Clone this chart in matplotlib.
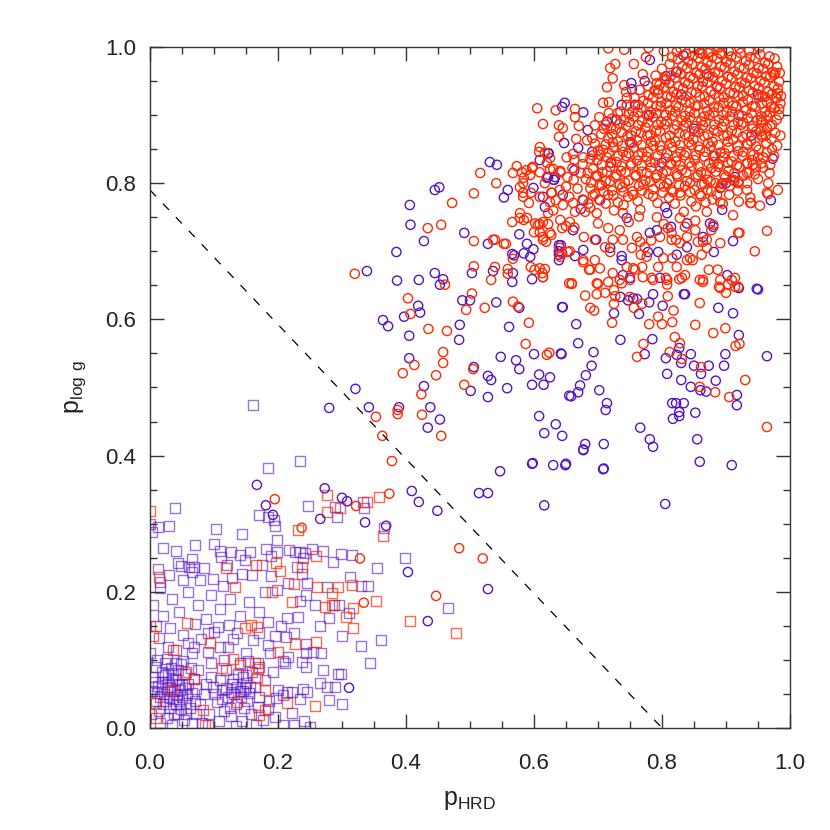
#!/usr/bin/env python3
"""
p_logg vs p_HRD scatter (circles: giants-side sample, squares: dwarf-side sample)
"""

import matplotlib
matplotlib.use("Agg")
import matplotlib.pyplot as plt
from matplotlib.ticker import MultipleLocator
import numpy as np

plt.rcParams['font.family'] = ['Liberation Sans', 'DejaVu Sans']
plt.rcParams['mathtext.default'] = 'regular'

PURPLE = '#5514c4'
RED = '#ff2a00'

# ---- data: (p_HRD, p_logg) pairs ----
purple_squares = [
    (0.039, 0.323), (0.030, 0.297), (0.013, 0.295), (0.003, 0.288), (0.103, 0.292), (0.144, 0.285),
    (0.170, 0.313), (0.184, 0.310), (0.194, 0.305), (0.195, 0.297), (0.247, 0.326), (0.289, 0.325),
    (0.292, 0.310), (0.333, 0.332), (0.217, 0.261), (0.227, 0.259), (0.234, 0.259), (0.242, 0.257),
    (0.239, 0.250), (0.253, 0.263), (0.270, 0.260), (0.286, 0.244), (0.298, 0.255), (0.315, 0.254),
    (0.181, 0.263), (0.189, 0.253), (0.198, 0.259), (0.157, 0.259), (0.140, 0.254), (0.127, 0.259),
    (0.110, 0.260), (0.111, 0.251), (0.149, 0.247), (0.066, 0.248), (0.043, 0.242), (0.048, 0.238),
    (0.068, 0.236), (0.012, 0.233), (0.016, 0.214), (0.061, 0.237), (0.065, 0.229), (0.078, 0.217),
    (0.052, 0.217), (0.098, 0.219), (0.114, 0.209), (0.128, 0.220), (0.144, 0.226), (0.189, 0.223),
    (0.216, 0.213), (0.238, 0.226), (0.245, 0.213), (0.276, 0.207), (0.330, 0.208), (0.340, 0.208),
    (0.312, 0.222), (0.198, 0.203), (0.244, 0.195), (0.288, 0.181), (0.295, 0.181), (0.311, 0.169),
    (0.280, 0.162), (0.231, 0.163), (0.214, 0.162), (0.234, 0.187), (0.212, 0.134), (0.244, 0.123),
    (0.254, 0.111), (0.244, 0.110), (0.188, 0.110), (0.184, 0.122), (0.169, 0.095), (0.170, 0.090),
    (0.153, 0.098), (0.208, 0.098), (0.211, 0.095), (0.237, 0.097), (0.244, 0.090), (0.267, 0.110),
    (0.298, 0.079), (0.344, 0.095), (0.198, 0.276), (0.230, 0.236), (0.334, 0.323), (0.398, 0.250),
    (0.355, 0.235), (0.466, 0.176), (0.366, 0.293), (0.361, 0.129), (0.161, 0.474), (0.234, 0.392),
    (0.184, 0.382), (0.195, 0.016), (0.208, 0.004), (0.225, 0.004), (0.241, 0.010), (0.250, 0.002),
    (0.222, 0.022), (0.234, 0.043), (0.280, 0.041), (0.266, 0.066), (0.277, 0.060), (0.289, 0.060),
    (0.294, 0.079), (0.239, 0.057), (0.245, 0.053), (0.222, 0.053), (0.214, 0.053), (0.208, 0.049),
    (0.197, 0.044), (0.200, 0.056), (0.169, 0.031), (0.184, 0.028), (0.192, 0.082), (0.216, 0.104),
    (0.070, 0.153), (0.106, 0.148), (0.100, 0.141), (0.124, 0.151), (0.136, 0.139), (0.161, 0.129),
    (0.014, 0.132), (0.031, 0.147), (0.052, 0.137), (0.028, 0.119), (0.011, 0.100), (0.027, 0.101),
    (0.048, 0.094), (0.066, 0.110), (0.068, 0.119), (0.091, 0.112), (0.109, 0.119), (0.122, 0.119),
    (0.075, 0.085), (0.150, 0.078), (0.156, 0.060), (0.145, 0.054), (0.126, 0.053), (0.113, 0.056),
    # dense knot near the origin
    (0.005, 0.075), (0.012, 0.062), (0.018, 0.082), (0.022, 0.050), (0.028, 0.068), (0.033, 0.088),
    (0.038, 0.055), (0.041, 0.072), (0.046, 0.040), (0.050, 0.063), (0.055, 0.080), (0.058, 0.048),
    (0.062, 0.030), (0.008, 0.040), (0.014, 0.025), (0.020, 0.035), (0.026, 0.015), (0.031, 0.030),
    (0.036, 0.042), (0.043, 0.020), (0.048, 0.028), (0.053, 0.012), (0.060, 0.065), (0.065, 0.052),
    (0.003, 0.055), (0.010, 0.090), (0.024, 0.095), (0.016, 0.008), (0.035, 0.005), (0.040, 0.095),
    (0.052, 0.098), (0.068, 0.072), (0.070, 0.040), (0.002, 0.020), (0.027, 0.058), (0.034, 0.070),
    (0.044, 0.085), (0.056, 0.037), (0.019, 0.068), (0.030, 0.045), (0.038, 0.020), (0.047, 0.056),
    (0.064, 0.088), (0.072, 0.058), (0.011, 0.052), (0.023, 0.078), (0.057, 0.020), (0.066, 0.008),
    (0.015, 0.045), (0.025, 0.040), (0.032, 0.060), (0.042, 0.048), (0.045, 0.065), (0.018, 0.058),
    (0.008, 0.068), (0.036, 0.078), (0.050, 0.045), (0.028, 0.080), (0.054, 0.058), (0.040, 0.035),
    # second knot
    (0.078, 0.035), (0.085, 0.050), (0.092, 0.020), (0.098, 0.060), (0.104, 0.038), (0.110, 0.070),
    (0.116, 0.025), (0.122, 0.045), (0.128, 0.065), (0.134, 0.035), (0.140, 0.055), (0.146, 0.075),
    (0.152, 0.040), (0.158, 0.020), (0.164, 0.060), (0.170, 0.045), (0.176, 0.012), (0.082, 0.008),
    (0.095, 0.075), (0.108, 0.010), (0.118, 0.085), (0.126, 0.018), (0.137, 0.080), (0.143, 0.010),
    (0.150, 0.066), (0.160, 0.082), (0.131, 0.050), (0.119, 0.058), (0.101, 0.050), (0.088, 0.065),
    (0.113, 0.043), (0.147, 0.030), (0.155, 0.052), (0.125, 0.030), (0.180, 0.070), (0.186, 0.040),
    (0.072, 0.020), (0.090, 0.005), (0.135, 0.003), (0.165, 0.005), (0.136, 0.060), (0.142, 0.045),
    (0.130, 0.072), (0.148, 0.058),
    # sparse middle
    (0.005, 0.180), (0.020, 0.165), (0.035, 0.190), (0.045, 0.170), (0.060, 0.200), (0.075, 0.180),
    (0.088, 0.160), (0.095, 0.195), (0.110, 0.175), (0.125, 0.190), (0.140, 0.165), (0.155, 0.185),
    (0.170, 0.170), (0.180, 0.200), (0.015, 0.205), (0.030, 0.225), (0.085, 0.235), (0.100, 0.270),
    (0.120, 0.240), (0.160, 0.225), (0.175, 0.240), (0.040, 0.260), (0.020, 0.265), (0.070, 0.268),
    (0.090, 0.140), (0.130, 0.130), (0.150, 0.110), (0.170, 0.140), (0.185, 0.155), (0.195, 0.135),
    (0.205, 0.150), (0.225, 0.140), (0.060, 0.125), (0.080, 0.130), (0.040, 0.115), (0.000, 0.110),
    (0.010, 0.150), (0.115, 0.100), (0.095, 0.095), (0.140, 0.095), (0.258, 0.180), (0.265, 0.150),
    (0.300, 0.135), (0.330, 0.120), (0.270, 0.085), (0.300, 0.035), (0.000, 0.300),
]

red_squares = [
    (0.000, 0.319), (0.276, 0.342), (0.297, 0.323), (0.276, 0.317), (0.231, 0.291), (0.259, 0.253),
    (0.237, 0.236), (0.197, 0.242), (0.203, 0.231), (0.119, 0.235), (0.166, 0.239), (0.014, 0.222),
    (0.133, 0.207), (0.225, 0.211), (0.261, 0.207), (0.294, 0.207), (0.315, 0.210), (0.191, 0.200),
    (0.284, 0.198), (0.284, 0.181), (0.273, 0.178), (0.317, 0.176), (0.317, 0.147), (0.306, 0.163),
    (0.222, 0.185), (0.227, 0.123), (0.259, 0.126), (0.200, 0.111), (0.258, 0.032), (0.214, 0.037),
    (0.180, 0.056), (0.180, 0.026), (0.170, 0.019), (0.058, 0.154), (0.148, 0.147), (0.158, 0.151),
    (0.167, 0.149), (0.005, 0.135), (0.036, 0.115), (0.094, 0.125), (0.130, 0.101), (0.141, 0.093),
    (0.113, 0.088), (0.056, 0.082), (0.069, 0.072), (0.164, 0.095), (0.169, 0.087), (0.167, 0.073),
    (0.136, 0.038), (0.083, 0.026), (0.086, 0.004), (0.033, 0.056), (0.009, 0.037), (0.009, 0.015),
    (0.339, 0.332), (0.358, 0.339), (0.364, 0.282), (0.353, 0.186), (0.406, 0.157), (0.478, 0.140),
    (0.000, 0.150),
]

purple_circles = [
    (0.531, 0.831), (0.542, 0.827), (0.445, 0.790), (0.452, 0.794), (0.406, 0.768), (0.407, 0.739),
    (0.428, 0.715), (0.385, 0.699), (0.339, 0.671), (0.386, 0.657), (0.420, 0.658), (0.445, 0.668),
    (0.458, 0.659), (0.453, 0.651), (0.491, 0.727), (0.528, 0.711), (0.503, 0.668), (0.536, 0.671),
    (0.567, 0.668), (0.566, 0.655), (0.597, 0.659), (0.419, 0.620), (0.397, 0.604), (0.422, 0.610),
    (0.364, 0.599), (0.372, 0.590), (0.405, 0.576), (0.484, 0.592), (0.483, 0.570), (0.488, 0.628),
    (0.500, 0.628), (0.541, 0.625), (0.561, 0.589), (0.577, 0.617), (0.644, 0.618), (0.405, 0.543),
    (0.428, 0.502), (0.438, 0.471), (0.453, 0.453), (0.434, 0.441), (0.389, 0.471), (0.342, 0.471),
    (0.321, 0.498), (0.280, 0.470), (0.506, 0.530), (0.501, 0.495), (0.528, 0.517), (0.533, 0.511),
    (0.528, 0.486), (0.558, 0.499), (0.548, 0.545), (0.572, 0.540), (0.577, 0.527), (0.600, 0.549),
    (0.608, 0.519), (0.625, 0.515), (0.597, 0.504), (0.615, 0.504), (0.642, 0.550), (0.608, 0.458),
    (0.634, 0.446), (0.616, 0.433), (0.644, 0.429), (0.598, 0.389), (0.630, 0.386), (0.649, 0.386),
    (0.547, 0.377), (0.577, 0.725), (0.566, 0.696), (0.594, 0.692), (0.599, 0.703), (0.623, 0.844),
    (0.559, 0.790), (0.553, 0.779), (0.599, 0.793), (0.622, 0.809), (0.631, 0.805), (0.639, 0.700),
    (0.639, 0.687), (0.614, 0.780), (0.609, 0.834), (0.589, 0.711), (0.584, 0.697), (0.569, 0.694),
    (0.639, 0.709), (0.655, 0.488), (0.409, 0.348), (0.420, 0.332), (0.449, 0.319), (0.336, 0.302),
    (0.369, 0.297), (0.403, 0.229), (0.434, 0.157), (0.528, 0.204), (0.514, 0.345), (0.528, 0.345),
    (0.597, 0.388), (0.616, 0.327), (0.677, 0.409), (0.680, 0.417), (0.709, 0.417), (0.709, 0.381),
    (0.805, 0.329), (0.167, 0.357), (0.181, 0.327), (0.192, 0.313), (0.273, 0.352), (0.300, 0.338),
    (0.308, 0.333), (0.266, 0.307), (0.311, 0.059),
    (0.645, 0.618), (0.666, 0.593), (0.669, 0.565), (0.643, 0.549), (0.693, 0.552), (0.690, 0.532),
    (0.681, 0.518), (0.672, 0.503), (0.669, 0.493), (0.658, 0.487), (0.702, 0.496), (0.714, 0.477),
    (0.712, 0.467), (0.735, 0.570), (0.725, 0.609), (0.735, 0.633), (0.747, 0.628), (0.761, 0.630),
    (0.764, 0.608), (0.780, 0.625), (0.786, 0.637), (0.785, 0.571), (0.773, 0.549), (0.801, 0.620),
    (0.836, 0.637), (0.806, 0.543), (0.808, 0.520), (0.823, 0.548), (0.827, 0.558), (0.830, 0.536),
    (0.830, 0.511), (0.845, 0.549), (0.850, 0.532), (0.873, 0.532), (0.861, 0.520), (0.845, 0.501),
    (0.860, 0.496), (0.869, 0.494), (0.884, 0.510), (0.816, 0.477), (0.822, 0.477), (0.834, 0.477),
    (0.827, 0.464), (0.817, 0.454), (0.827, 0.458), (0.852, 0.463), (0.766, 0.441), (0.781, 0.424),
    (0.786, 0.413), (0.855, 0.424), (0.859, 0.391), (0.909, 0.386), (0.708, 0.380), (0.677, 0.408),
    (0.650, 0.388), (0.888, 0.617), (0.911, 0.609), (0.920, 0.577), (0.899, 0.549), (0.897, 0.532),
    (0.917, 0.489), (0.917, 0.474), (0.964, 0.546), (0.950, 0.644), (0.920, 0.646),
    (0.781, 0.981), (0.833, 0.988), (0.822, 0.963), (0.806, 0.957), (0.773, 0.950), (0.752, 0.947),
    (0.753, 0.938), (0.648, 0.918), (0.644, 0.912), (0.677, 0.904), (0.729, 0.893), (0.737, 0.915),
    (0.758, 0.915), (0.714, 0.890), (0.684, 0.878), (0.647, 0.859), (0.622, 0.844), (0.669, 0.852),
    (0.691, 0.846), (0.663, 0.819), (0.633, 0.809), (0.973, 0.836), (0.886, 0.941),
    (0.620, 0.808), (0.631, 0.805), (0.645, 0.783), (0.617, 0.765), (0.677, 0.775), (0.673, 0.762),
    (0.703, 0.775), (0.661, 0.731), (0.677, 0.702), (0.697, 0.717), (0.639, 0.695), (0.642, 0.709),
    (0.664, 0.693), (0.737, 0.693), (0.737, 0.687), (0.739, 0.665), (0.750, 0.661), (0.719, 0.705),
    (0.745, 0.749), (0.781, 0.727), (0.792, 0.731), (0.778, 0.699), (0.794, 0.699), (0.808, 0.756),
    (0.805, 0.765), (0.839, 0.741), (0.814, 0.736), (0.839, 0.706), (0.823, 0.695), (0.864, 0.721),
    (0.875, 0.741), (0.880, 0.736), (0.894, 0.761), (0.881, 0.699), (0.911, 0.715), (0.891, 0.793),
    (0.914, 0.809), (0.970, 0.775), (0.902, 0.665), (0.948, 0.645), (0.797, 0.661), (0.755, 0.631),
    (0.834, 0.637),
    # hidden inside the red mass
    (0.750, 0.860), (0.800, 0.830), (0.850, 0.880), (0.880, 0.840), (0.920, 0.900), (0.780, 0.900),
    (0.830, 0.930), (0.950, 0.930), (0.720, 0.830), (0.900, 0.800), (0.870, 0.960), (0.940, 0.870),
]

red_circles_sparse = [
    (0.378, 0.392), (0.374, 0.344), (0.483, 0.264), (0.520, 0.249), (0.447, 0.194), (0.334, 0.184),
    (0.328, 0.249), (0.195, 0.336), (0.237, 0.294), (0.322, 0.326),
    (0.320, 0.667), (0.403, 0.631), (0.407, 0.608), (0.435, 0.586), (0.464, 0.583), (0.458, 0.552),
    (0.458, 0.536), (0.413, 0.533), (0.395, 0.521), (0.447, 0.518), (0.491, 0.504), (0.505, 0.527),
    (0.424, 0.490), (0.353, 0.457), (0.387, 0.467), (0.387, 0.461), (0.425, 0.460), (0.363, 0.429),
    (0.455, 0.429), (0.494, 0.614), (0.503, 0.638), (0.523, 0.617), (0.567, 0.626), (0.575, 0.619),
    (0.592, 0.595), (0.587, 0.564), (0.620, 0.548), (0.624, 0.551), (0.506, 0.678), (0.539, 0.677),
    (0.533, 0.658), (0.559, 0.674), (0.559, 0.667), (0.595, 0.677), (0.617, 0.674), (0.613, 0.668),
    (0.614, 0.662), (0.556, 0.711), (0.539, 0.717), (0.506, 0.715), (0.619, 0.714), (0.641, 0.692),
    (0.655, 0.653), (0.516, 0.815), (0.541, 0.800), (0.506, 0.785), (0.472, 0.771), (0.434, 0.734),
    (0.455, 0.739), (0.536, 0.717), (0.553, 0.711), (0.461, 0.651),
]

red_circles_halo = [
    (0.727, 0.975), (0.719, 0.969), (0.756, 0.975), (0.775, 0.985), (0.723, 0.954), (0.741, 0.944),
    (0.714, 0.941), (0.770, 0.960), (0.744, 0.934), (0.745, 0.925), (0.708, 0.918), (0.717, 0.919),
    (0.717, 0.903), (0.702, 0.897), (0.731, 0.903), (0.634, 0.907), (0.664, 0.909), (0.664, 0.897),
    (0.614, 0.887), (0.639, 0.885), (0.645, 0.881), (0.670, 0.884), (0.695, 0.885), (0.709, 0.880),
    (0.720, 0.881), (0.683, 0.863), (0.691, 0.866), (0.666, 0.865), (0.639, 0.868), (0.651, 0.838),
    (0.661, 0.843), (0.663, 0.834), (0.677, 0.838), (0.692, 0.841), (0.609, 0.853), (0.625, 0.837),
    (0.617, 0.845), (0.609, 0.816), (0.630, 0.821), (0.641, 0.818), (0.816, 0.985), (0.823, 0.993),
    (0.850, 0.998), (0.859, 0.991), (0.872, 0.991), (0.891, 0.991), (0.792, 0.947), (0.794, 0.937),
    (0.805, 0.953), (0.984, 0.962), (0.975, 0.959), (0.981, 0.932), (0.979, 0.925), (0.983, 0.909),
    (0.961, 0.927), (0.955, 0.893), (0.964, 0.881), (0.956, 0.868), (0.950, 0.838), (0.969, 0.827),
    (0.942, 0.827), (0.933, 0.830), (0.605, 0.910), (0.588, 0.819), (0.598, 0.824), (0.584, 0.808),
    (0.578, 0.794), (0.583, 0.780), (0.592, 0.771), (0.578, 0.756), (0.589, 0.749), (0.602, 0.741),
    (0.609, 0.740), (0.600, 0.728), (0.614, 0.717), (0.625, 0.727),
    (0.617, 0.800), (0.628, 0.786), (0.625, 0.772), (0.622, 0.756), (0.614, 0.721), (0.627, 0.724),
    (0.609, 0.675), (0.614, 0.662), (0.641, 0.746), (0.644, 0.734), (0.650, 0.737), (0.656, 0.743),
    (0.663, 0.735), (0.656, 0.700), (0.678, 0.721), (0.677, 0.687), (0.695, 0.717), (0.695, 0.687),
    (0.703, 0.675), (0.686, 0.673), (0.659, 0.653), (0.698, 0.653), (0.716, 0.655), (0.725, 0.643),
    (0.737, 0.653), (0.750, 0.658), (0.755, 0.675), (0.769, 0.677), (0.770, 0.662), (0.784, 0.661),
    (0.806, 0.661), (0.808, 0.651), (0.823, 0.677), (0.831, 0.661), (0.839, 0.687), (0.848, 0.687),
    (0.856, 0.714), (0.864, 0.714), (0.870, 0.705), (0.873, 0.673), (0.887, 0.673), (0.864, 0.658),
    (0.889, 0.648), (0.909, 0.658), (0.914, 0.661), (0.919, 0.648), (0.921, 0.727), (0.911, 0.753),
    (0.945, 0.700), (0.964, 0.730), (0.953, 0.767), (0.966, 0.784), (0.981, 0.790), (0.939, 0.771),
    (0.938, 0.779), (0.933, 0.800), (0.945, 0.813), (0.911, 0.805), (0.920, 0.803), (0.852, 0.731),
    (0.836, 0.736), (0.880, 0.739), (0.877, 0.731), (0.839, 0.721), (0.828, 0.712), (0.815, 0.717),
    (0.816, 0.690), (0.794, 0.677), (0.776, 0.692), (0.753, 0.705), (0.766, 0.714), (0.739, 0.717),
    (0.723, 0.717), (0.734, 0.731), (0.711, 0.706), (0.719, 0.699), (0.761, 0.721), (0.773, 0.706),
    (0.783, 0.716), (0.797, 0.721), (0.809, 0.734), (0.815, 0.727), (0.822, 0.717), (0.803, 0.740),
    (0.792, 0.750), (0.766, 0.761), (0.764, 0.751), (0.748, 0.743), (0.739, 0.756), (0.716, 0.734),
    (0.700, 0.741), (0.698, 0.756), (0.688, 0.764), (0.661, 0.771), (0.645, 0.768), (0.634, 0.775),
    (0.664, 0.758), (0.680, 0.758), (0.828, 0.749), (0.834, 0.758), (0.852, 0.745), (0.870, 0.758),
    (0.891, 0.772), (0.920, 0.773), (0.933, 0.790), (0.895, 0.800),
    (0.659, 0.652), (0.680, 0.635), (0.698, 0.637), (0.711, 0.639), (0.688, 0.617), (0.694, 0.613),
    (0.727, 0.634), (0.725, 0.623), (0.722, 0.595), (0.750, 0.633), (0.756, 0.617), (0.769, 0.623),
    (0.780, 0.593), (0.794, 0.604), (0.800, 0.593), (0.816, 0.596), (0.818, 0.613), (0.809, 0.634),
    (0.771, 0.564), (0.761, 0.545), (0.812, 0.552), (0.820, 0.574), (0.828, 0.565), (0.831, 0.542),
    (0.859, 0.624), (0.852, 0.592), (0.859, 0.501), (0.861, 0.530), (0.883, 0.493), (0.880, 0.580),
    (0.899, 0.587), (0.905, 0.486), (0.915, 0.561), (0.921, 0.564), (0.930, 0.511), (0.964, 0.442),
    (0.891, 0.646), (0.900, 0.639), (0.903, 0.651), (0.914, 0.648), (0.864, 0.655),
    (0.644, 0.697), (0.677, 0.684), (0.688, 0.673), (0.700, 0.652), (0.723, 0.668), (0.734, 0.658),
    (0.745, 0.677), (0.758, 0.673), (0.767, 0.695), (0.786, 0.658), (0.808, 0.658), (0.802, 0.690),
    (0.827, 0.659), (0.836, 0.665), (0.844, 0.690), (0.862, 0.695), (0.859, 0.658), (0.870, 0.717),
    (0.891, 0.658), (0.891, 0.712), (0.919, 0.727), (0.938, 0.771), (0.964, 0.786), (0.966, 0.800),
    (0.919, 0.800), (0.933, 0.815),
    (0.573, 0.825), (0.567, 0.815), (0.581, 0.816), (0.597, 0.822), (0.594, 0.812), (0.608, 0.846),
    (0.625, 0.821), (0.641, 0.816), (0.652, 0.809), (0.583, 0.800), (0.583, 0.786), (0.595, 0.786),
    (0.609, 0.780), (0.627, 0.786), (0.566, 0.743), (0.578, 0.749), (0.584, 0.746), (0.606, 0.739),
    (0.614, 0.743), (0.622, 0.740), (0.609, 0.728), (0.640, 0.705), (0.653, 0.699), (0.567, 0.689),
    (0.601, 0.673),
    # edges of the dense mass
    (0.655, 0.780), (0.668, 0.792), (0.676, 0.776), (0.662, 0.805), (0.673, 0.815), (0.650, 0.795),
    (0.685, 0.770), (0.692, 0.782), (0.660, 0.822), (0.676, 0.828), (0.688, 0.836), (0.700, 0.848),
    (0.695, 0.858), (0.705, 0.872), (0.712, 0.886), (0.722, 0.895), (0.735, 0.905), (0.745, 0.915),
    (0.757, 0.925), (0.765, 0.937), (0.778, 0.943), (0.790, 0.958), (0.800, 0.968), (0.812, 0.975),
    (0.825, 0.982), (0.838, 0.990), (0.968, 0.815), (0.975, 0.840), (0.980, 0.855), (0.985, 0.870),
    (0.972, 0.850), (0.958, 0.823), (0.950, 0.806), (0.905, 0.783), (0.918, 0.789), (0.895, 0.770),
    (0.868, 0.772), (0.853, 0.766), (0.820, 0.770), (0.740, 0.768), (0.725, 0.760), (0.712, 0.770),
    (0.630, 0.760), (0.640, 0.790), (0.620, 0.830),
]

red_circles_core = [
    (0.702, 0.776), (0.716, 0.783), (0.731, 0.772), (0.747, 0.780), (0.762, 0.774), (0.779, 0.784),
    (0.793, 0.771), (0.811, 0.779), (0.828, 0.786), (0.846, 0.773), (0.861, 0.781), (0.879, 0.776),
    (0.688, 0.792), (0.706, 0.797), (0.722, 0.789), (0.738, 0.794), (0.754, 0.788), (0.771, 0.798),
    (0.786, 0.791), (0.803, 0.795), (0.817, 0.787), (0.836, 0.796), (0.851, 0.790), (0.866, 0.799),
    (0.877, 0.788), (0.892, 0.794),
    (0.681, 0.806), (0.697, 0.811), (0.712, 0.803), (0.727, 0.809), (0.742, 0.801), (0.759, 0.812),
    (0.774, 0.804), (0.791, 0.808), (0.808, 0.800), (0.824, 0.810), (0.839, 0.803), (0.856, 0.812),
    (0.871, 0.805), (0.884, 0.800), (0.899, 0.809), (0.913, 0.803),
    (0.692, 0.821), (0.707, 0.816), (0.719, 0.824), (0.736, 0.818), (0.751, 0.826), (0.768, 0.817),
    (0.783, 0.823), (0.801, 0.815), (0.814, 0.827), (0.831, 0.819), (0.846, 0.825), (0.861, 0.816),
    (0.877, 0.822), (0.889, 0.828), (0.904, 0.818), (0.921, 0.824), (0.936, 0.816),
    (0.699, 0.834), (0.714, 0.838), (0.729, 0.831), (0.744, 0.840), (0.761, 0.833), (0.776, 0.839),
    (0.789, 0.830), (0.806, 0.837), (0.822, 0.832), (0.835, 0.841), (0.851, 0.834), (0.866, 0.839),
    (0.881, 0.831), (0.896, 0.838), (0.909, 0.832), (0.926, 0.840), (0.941, 0.834), (0.955, 0.829),
    (0.708, 0.849), (0.724, 0.853), (0.739, 0.846), (0.756, 0.852), (0.769, 0.845), (0.786, 0.855),
    (0.799, 0.848), (0.816, 0.853), (0.829, 0.846), (0.846, 0.856), (0.859, 0.849), (0.876, 0.854),
    (0.891, 0.845), (0.904, 0.852), (0.919, 0.847), (0.934, 0.856), (0.951, 0.849), (0.964, 0.845),
    (0.716, 0.866), (0.731, 0.861), (0.746, 0.869), (0.761, 0.863), (0.777, 0.870), (0.789, 0.862),
    (0.806, 0.867), (0.821, 0.861), (0.836, 0.871), (0.849, 0.864), (0.866, 0.869), (0.879, 0.861),
    (0.896, 0.870), (0.911, 0.864), (0.926, 0.868), (0.939, 0.862), (0.956, 0.871), (0.971, 0.865),
    (0.728, 0.879), (0.744, 0.884), (0.759, 0.876), (0.774, 0.882), (0.791, 0.877), (0.804, 0.886),
    (0.819, 0.879), (0.834, 0.884), (0.851, 0.876), (0.864, 0.885), (0.881, 0.878), (0.894, 0.883),
    (0.909, 0.877), (0.924, 0.886), (0.941, 0.880), (0.954, 0.876), (0.969, 0.884),
    (0.741, 0.893), (0.756, 0.898), (0.769, 0.891), (0.786, 0.897), (0.799, 0.890), (0.816, 0.899),
    (0.831, 0.892), (0.844, 0.897), (0.861, 0.891), (0.874, 0.900), (0.889, 0.893), (0.906, 0.898),
    (0.919, 0.890), (0.934, 0.896), (0.949, 0.892), (0.964, 0.899), (0.979, 0.893),
    (0.754, 0.906), (0.768, 0.911), (0.783, 0.904), (0.798, 0.913), (0.813, 0.907), (0.826, 0.912),
    (0.843, 0.905), (0.856, 0.914), (0.871, 0.906), (0.888, 0.911), (0.901, 0.904), (0.916, 0.913),
    (0.931, 0.907), (0.946, 0.912), (0.961, 0.905), (0.976, 0.910),
    (0.771, 0.921), (0.786, 0.926), (0.799, 0.919), (0.814, 0.927), (0.831, 0.922), (0.844, 0.918),
    (0.859, 0.927), (0.874, 0.921), (0.889, 0.926), (0.904, 0.919), (0.919, 0.928), (0.934, 0.922),
    (0.951, 0.926), (0.964, 0.919), (0.979, 0.925),
    (0.788, 0.936), (0.803, 0.941), (0.818, 0.934), (0.833, 0.939), (0.846, 0.933), (0.863, 0.942),
    (0.876, 0.935), (0.891, 0.940), (0.906, 0.933), (0.921, 0.941), (0.936, 0.936), (0.951, 0.940),
    (0.966, 0.934), (0.981, 0.939),
    (0.806, 0.951), (0.821, 0.955), (0.836, 0.948), (0.849, 0.954), (0.864, 0.949), (0.879, 0.956),
    (0.894, 0.950), (0.909, 0.955), (0.924, 0.948), (0.939, 0.954), (0.954, 0.950), (0.969, 0.956),
    (0.983, 0.949),
    (0.824, 0.964), (0.839, 0.969), (0.854, 0.962), (0.868, 0.968), (0.883, 0.963), (0.898, 0.970),
    (0.913, 0.964), (0.928, 0.969), (0.943, 0.962), (0.958, 0.968), (0.973, 0.963),
    (0.841, 0.979), (0.856, 0.984), (0.871, 0.977), (0.886, 0.983), (0.901, 0.978), (0.916, 0.985),
    (0.931, 0.979), (0.946, 0.984), (0.961, 0.977), (0.976, 0.983),
    (0.716, 0.998), (0.741, 0.996), (0.779, 0.999), (0.803, 0.994), (0.829, 0.998), (0.858, 0.996),
    (0.874, 0.993), (0.889, 0.999), (0.904, 0.994), (0.921, 0.998), (0.936, 0.995), (0.952, 0.999),
    # interleaved second layer
    (0.695, 0.784), (0.709, 0.788), (0.724, 0.782), (0.740, 0.787), (0.755, 0.783), (0.769, 0.789),
    (0.786, 0.781), (0.801, 0.786), (0.815, 0.790), (0.829, 0.782), (0.844, 0.787), (0.859, 0.784),
    (0.871, 0.790), (0.886, 0.783),
    (0.689, 0.801), (0.703, 0.797), (0.719, 0.803), (0.734, 0.798), (0.748, 0.804), (0.764, 0.796),
    (0.781, 0.802), (0.797, 0.799), (0.812, 0.805), (0.827, 0.797), (0.844, 0.801), (0.862, 0.798),
    (0.876, 0.803), (0.893, 0.799), (0.906, 0.796),
    (0.684, 0.815), (0.699, 0.811), (0.714, 0.817), (0.729, 0.812), (0.743, 0.816), (0.759, 0.810),
    (0.776, 0.815), (0.792, 0.812), (0.807, 0.818), (0.823, 0.813), (0.838, 0.816), (0.853, 0.809),
    (0.869, 0.814), (0.884, 0.817), (0.897, 0.812), (0.913, 0.815), (0.927, 0.811),
    (0.706, 0.827), (0.721, 0.830), (0.737, 0.825), (0.752, 0.829), (0.768, 0.826), (0.782, 0.831),
    (0.797, 0.824), (0.813, 0.829), (0.828, 0.826), (0.843, 0.830), (0.857, 0.825), (0.873, 0.829),
    (0.888, 0.824), (0.903, 0.830), (0.917, 0.826), (0.933, 0.829), (0.947, 0.823),
    (0.703, 0.842), (0.717, 0.845), (0.732, 0.840), (0.748, 0.844), (0.763, 0.841), (0.778, 0.846),
    (0.793, 0.840), (0.808, 0.844), (0.823, 0.839), (0.838, 0.845), (0.853, 0.841), (0.868, 0.846),
    (0.883, 0.840), (0.898, 0.844), (0.912, 0.840), (0.927, 0.846), (0.943, 0.842), (0.958, 0.838),
    (0.712, 0.857), (0.723, 0.860), (0.738, 0.855), (0.753, 0.859), (0.768, 0.856), (0.783, 0.861),
    (0.797, 0.855), (0.813, 0.859), (0.828, 0.856), (0.842, 0.860), (0.857, 0.854), (0.872, 0.859),
    (0.888, 0.856), (0.903, 0.861), (0.918, 0.855), (0.933, 0.858), (0.947, 0.854), (0.963, 0.859),
    (0.722, 0.872), (0.737, 0.875), (0.752, 0.870), (0.767, 0.874), (0.782, 0.871), (0.797, 0.876),
    (0.812, 0.870), (0.827, 0.874), (0.842, 0.869), (0.857, 0.875), (0.872, 0.871), (0.887, 0.876),
    (0.902, 0.870), (0.917, 0.874), (0.932, 0.871), (0.947, 0.876), (0.962, 0.870), (0.977, 0.874),
    (0.734, 0.887), (0.749, 0.890), (0.763, 0.885), (0.778, 0.889), (0.793, 0.886), (0.808, 0.891),
    (0.823, 0.885), (0.838, 0.889), (0.853, 0.884), (0.868, 0.890), (0.882, 0.886), (0.897, 0.891),
    (0.912, 0.885), (0.927, 0.889), (0.942, 0.884), (0.957, 0.890), (0.972, 0.886),
    (0.748, 0.901), (0.762, 0.904), (0.777, 0.899), (0.791, 0.903), (0.806, 0.900), (0.821, 0.905),
    (0.836, 0.899), (0.851, 0.903), (0.866, 0.898), (0.881, 0.904), (0.895, 0.900), (0.910, 0.905),
    (0.925, 0.899), (0.940, 0.903), (0.955, 0.898), (0.969, 0.904), (0.983, 0.900),
    (0.763, 0.915), (0.778, 0.918), (0.792, 0.913), (0.807, 0.917), (0.822, 0.914), (0.837, 0.919),
    (0.852, 0.913), (0.866, 0.917), (0.881, 0.912), (0.896, 0.918), (0.911, 0.914), (0.926, 0.919),
    (0.941, 0.913), (0.956, 0.917), (0.971, 0.912), (0.985, 0.917),
    (0.779, 0.929), (0.794, 0.932), (0.808, 0.927), (0.823, 0.931), (0.838, 0.928), (0.853, 0.933),
    (0.867, 0.927), (0.882, 0.931), (0.897, 0.926), (0.912, 0.932), (0.927, 0.928), (0.942, 0.933),
    (0.957, 0.927), (0.972, 0.931), (0.986, 0.928),
    (0.796, 0.944), (0.811, 0.947), (0.826, 0.942), (0.841, 0.946), (0.856, 0.943), (0.871, 0.948),
    (0.886, 0.942), (0.900, 0.946), (0.915, 0.941), (0.930, 0.947), (0.945, 0.943), (0.960, 0.948),
    (0.975, 0.942),
    (0.814, 0.958), (0.829, 0.961), (0.844, 0.956), (0.859, 0.960), (0.873, 0.957), (0.888, 0.962),
    (0.903, 0.956), (0.918, 0.960), (0.933, 0.955), (0.948, 0.961), (0.963, 0.957), (0.977, 0.962),
    (0.832, 0.972), (0.847, 0.975), (0.862, 0.970), (0.877, 0.974), (0.892, 0.971), (0.907, 0.976),
    (0.921, 0.970), (0.936, 0.974), (0.951, 0.969), (0.966, 0.975), (0.980, 0.971),
    (0.848, 0.987), (0.863, 0.990), (0.878, 0.985), (0.893, 0.989), (0.908, 0.986), (0.923, 0.991),
    (0.938, 0.985), (0.953, 0.989), (0.968, 0.986),
]

# dividing line p_logg = 0.79 - 0.9875 * p_HRD
line_x = [0.0, 0.8]
line_y = [0.79, 0.0]


def xy(points):
    arr = np.array(points)
    return arr[:, 0], arr[:, 1]


fig = plt.figure(figsize=(8.3, 8.3), dpi=100)
ax = fig.add_axes([150 / 830, 102 / 830, 640 / 830, 681 / 830])

x, y = xy(purple_squares)
ax.scatter(x, y, marker='s', s=52, facecolors='none', edgecolors=PURPLE,
           linewidths=1.0, alpha=0.6)
x, y = xy(red_squares)
ax.scatter(x, y, marker='s', s=52, facecolors='none', edgecolors=RED,
           linewidths=1.0, alpha=0.7)

x, y = xy(purple_circles)
ax.scatter(x, y, marker='o', s=44, facecolors='none', edgecolors=PURPLE, linewidths=1.0)
for pts in (red_circles_sparse, red_circles_halo, red_circles_core):
    x, y = xy(pts)
    ax.scatter(x, y, marker='o', s=44, facecolors='none', edgecolors=RED, linewidths=1.0)

ax.plot(line_x, line_y, color='black', lw=0.9, dashes=(7, 8))

ax.set_xlim(0, 1)
ax.set_ylim(0, 1)
ax.xaxis.set_major_locator(MultipleLocator(0.2))
ax.yaxis.set_major_locator(MultipleLocator(0.2))
ax.xaxis.set_minor_locator(MultipleLocator(0.05))
ax.yaxis.set_minor_locator(MultipleLocator(0.05))
ax.tick_params(which='both', direction='in', top=True, right=True, color='#333333', width=1)
ax.tick_params(which='major', length=10)
ax.tick_params(which='minor', length=5)
ax.tick_params(axis='x', which='major', pad=18, labelsize=16, labelcolor='#222222')
ax.tick_params(axis='y', which='major', pad=10, labelsize=16, labelcolor='#222222')
ax.xaxis.set_major_formatter(plt.FormatStrFormatter('%.1f'))
ax.yaxis.set_major_formatter(plt.FormatStrFormatter('%.1f'))
for sp in ax.spines.values():
    sp.set_color('#333333')
    sp.set_linewidth(1)

ax.set_xlabel(r'$p_{HRD}$', fontsize=18, color='#222222', labelpad=10)
ax.set_ylabel(r'$p_{log\ g}$', fontsize=18, color='#222222', labelpad=12)

fig.savefig('out.png', dpi=100, facecolor='white')
